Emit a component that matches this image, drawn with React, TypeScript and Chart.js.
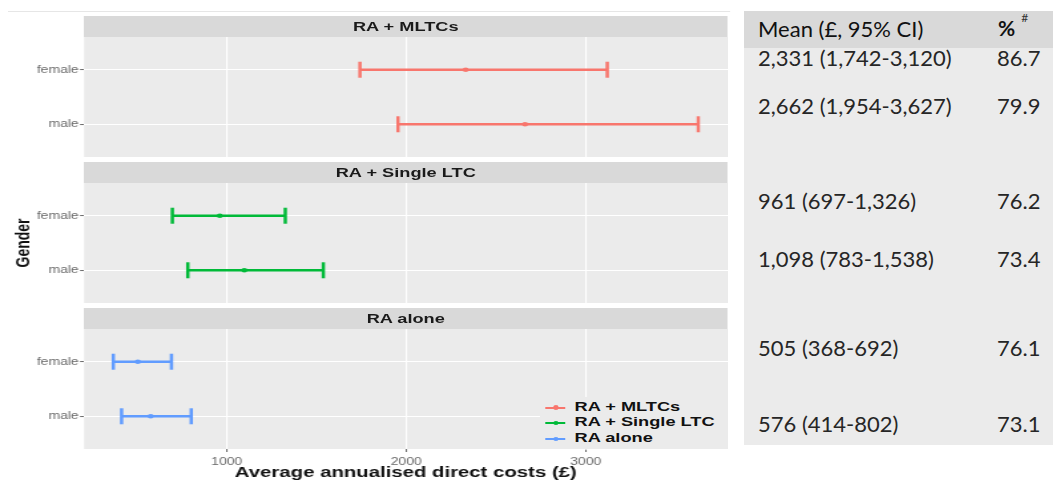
import React, { useEffect, useRef } from 'react';
import { Chart, registerables } from 'chart.js';

Chart.register(...registerables);

// ---------- data ----------
const genders = ['female', 'male'];
const groups = ['RA + MLTCs', 'RA + Single LTC', 'RA alone'];
const groupColors = ['#F8766D', '#00BA38', '#619CFF'];

const mltcMean = [2331, 2662];
const mltcLow = [1742, 1954];
const mltcHigh = [3120, 3627];

const singleMean = [961, 1098];
const singleLow = [697, 783];
const singleHigh = [1326, 1538];

const aloneMean = [505, 576];
const aloneLow = [368, 414];
const aloneHigh = [692, 802];

const mltcPct = [86.7, 79.9];
const singlePct = [76.2, 73.4];
const alonePct = [76.1, 73.1];

const xTickValues = [1000, 2000, 3000];
const xMin = 205;
const xMax = 3790;

const xTitle = 'Average annualised direct costs (£)';
const yTitle = 'Gender';
const tableHeaderMean = 'Mean (£, 95% CI)';
const tableHeaderPct = '%';

const means = [mltcMean, singleMean, aloneMean];
const lows = [mltcLow, singleLow, aloneLow];
const highs = [mltcHigh, singleHigh, aloneHigh];
const pcts = [mltcPct, singlePct, alonePct];

// ---------- layout (chart drawn unstretched, then scaled horizontally) ----------
const STRETCH = 1.33;
const SANS = '"Liberation Sans", Arial, Helvetica, sans-serif';
const AXIS_W = 63.2;
const CANVAS_W = 547;
const stripTops = [16, 162, 308];
const panelTops = [37, 183, 329];
const panelH = 120;
const bottomCanvasH = 153;

const panelBg = {
  id: 'panelBg',
  beforeDraw(chart: any) {
    const { ctx, chartArea } = chart;
    if (!chartArea) return;
    ctx.save();
    ctx.fillStyle = '#EBEBEB';
    ctx.fillRect(chartArea.left, chartArea.top, chartArea.right - chartArea.left, chartArea.bottom - chartArea.top);
    ctx.restore();
  },
};

function Panel({ gi, top, height, showX, showYTitle }: { gi: number; top: number; height: number; showX: boolean; showYTitle: boolean }) {
  const ref = useRef<HTMLCanvasElement>(null);
  useEffect(() => {
    const color = groupColors[gi];
    const datasets: any[] = [];
    genders.forEach((_, i) => {
      datasets.push({
        type: 'scatter',
        label: groups[gi] + ' ' + genders[i],
        data: [
          { x: lows[gi][i], y: i + 1 },
          { x: highs[gi][i], y: i + 1 },
        ],
        showLine: true,
        borderColor: color,
        borderWidth: 2.4,
        pointRadius: 0,
        clip: false,
      });
    });
    datasets.push({
      type: 'scatter',
      label: 'caps',
      data: genders.flatMap((_, i) => [
        { x: lows[gi][i], y: i + 1 },
        { x: highs[gi][i], y: i + 1 },
      ]),
      pointStyle: 'line',
      pointRotation: 90,
      pointRadius: 8,
      pointBorderWidth: 2.5,
      pointBorderColor: color,
      borderColor: color,
      clip: false,
    });
    datasets.push({
      type: 'scatter',
      label: 'mean',
      data: genders.map((_, i) => ({ x: means[gi][i], y: i + 1 })),
      pointRadius: 2.3,
      pointBackgroundColor: color,
      pointBorderWidth: 0,
      backgroundColor: color,
      clip: false,
    });

    const chart = new Chart(ref.current as HTMLCanvasElement, {
      type: 'scatter',
      data: { datasets },
      plugins: [panelBg],
      options: {
        animation: false,
        responsive: false,
        maintainAspectRatio: false,
        events: [],
        layout: { padding: 0, autoPadding: false },
        plugins: { legend: { display: false }, tooltip: { enabled: false }, title: { display: false } },
        scales: {
          x: {
            type: 'linear',
            min: xMin,
            max: xMax,
            afterBuildTicks: (s: any) => {
              s.ticks = xTickValues.map((v) => ({ value: v }));
            },
            grid: { color: '#FFFFFF', lineWidth: 1.1, drawTicks: showX, tickLength: 3, tickColor: '#666666', tickWidth: 1 },
            border: { display: false },
            ticks: {
              display: showX,
              padding: 4,
              color: '#6a6a6a',
              font: { family: SANS, size: 10.5 },
              callback: (v: any) => String(v),
            },
            title: {
              display: showX,
              text: xTitle,
              color: '#111111',
              font: { family: SANS, size: 15.3, weight: 'bold' },
              padding: 0,
            },
            afterFit: (s: any) => {
              s.height = showX ? 33 : 0;
              s.paddingLeft = 0;
              s.paddingRight = 0;
            },
          },
          y: {
            type: 'linear',
            reverse: true,
            min: 0.4,
            max: 2.6,
            afterBuildTicks: (s: any) => {
              s.ticks = genders.map((_, i) => ({ value: i + 1 }));
            },
            grid: { color: '#FFFFFF', lineWidth: 1.1, tickLength: 3, tickColor: '#666666', tickWidth: 1 },
            border: { display: false },
            ticks: {
              padding: 1,
              color: '#6a6a6a',
              font: { family: SANS, size: 10.5 },
              callback: (v: any) => genders[Number(v) - 1] ?? '',
            },
            title: {
              display: showYTitle,
              text: yTitle,
              color: '#111111',
              font: { family: SANS, size: 14, weight: 'bold' },
              padding: { top: 10, bottom: 0 },
            },
            afterFit: (s: any) => {
              s.width = AXIS_W;
              s.paddingTop = 0;
              s.paddingBottom = 0;
            },
          },
        },
      } as any,
    });
    return () => chart.destroy();
  }, []);
  return (
    <canvas
      ref={ref}
      width={CANVAS_W}
      height={height}
      style={{ position: 'absolute', left: 0, top, width: CANVAS_W, height }}
    />
  );
}

const fmt = (n: number) => n.toLocaleString('en-GB');

export default function App() {
  useEffect(() => {
    document.body.style.margin = '0';
    document.body.style.overflow = 'hidden';
    document.documentElement.style.overflow = 'hidden';
  }, []);

  const rowCenters = [58, 106, 201, 259, 348, 424];
  const tableRows: { mean: string; pct: string }[] = [];
  groups.forEach((_, gi) => {
    genders.forEach((_, i) => {
      tableRows.push({
        mean: `${fmt(means[gi][i])} (${fmt(lows[gi][i])}-${fmt(highs[gi][i])})`,
        pct: pcts[gi][i].toFixed(1),
      });
    });
  });

  const legendRows = [407.5, 423, 439];
  const tableFont = `22px Lato, "Open Sans", sans-serif`;

  return (
    <div style={{ position: 'relative', width: 1053, height: 480, overflow: 'hidden', background: '#FFFFFF' }}>
      {/* left figure, horizontally stretched */}
      <div
        style={{
          position: 'absolute',
          left: 0,
          top: 0,
          width: 550,
          height: 480,
          transform: `scaleX(${STRETCH})`,
          transformOrigin: '0 0',
        }}
      >
        <div style={{ position: 'absolute', left: 6, top: 11, width: 543, height: 1, background: '#E6E6E6' }} />
        {groups.map((g, gi) => (
          <div
            key={g}
            style={{
              position: 'absolute',
              left: AXIS_W,
              top: stripTops[gi],
              width: CANVAS_W - AXIS_W,
              height: 21,
              background: '#D9D9D9',
              color: '#1A1A1A',
              font: `bold 13.7px ${SANS}`,
              lineHeight: '22px',
              textAlign: 'center',
            }}
          >
            {g}
          </div>
        ))}
        {groups.map((g, gi) => (
          <Panel
            key={'p' + g}
            gi={gi}
            top={panelTops[gi]}
            height={gi === 2 ? bottomCanvasH : panelH}
            showX={gi === 2}
            showYTitle={gi === 1}
          />
        ))}
        {/* legend */}
        <div style={{ position: 'absolute', left: 406, top: 397, width: 141, height: 52, background: '#EBEBEB' }} />
        {groups.map((g, gi) => (
          <React.Fragment key={'l' + g}>
            <div
              style={{
                position: 'absolute',
                left: 410,
                top: legendRows[gi] - 1,
                width: 15,
                height: 2,
                background: groupColors[gi],
              }}
            />
            <div
              style={{
                position: 'absolute',
                left: 415.5,
                top: legendRows[gi] - 2.2,
                width: 4.4,
                height: 4.4,
                borderRadius: '50%',
                background: groupColors[gi],
              }}
            />
            <div
              style={{
                position: 'absolute',
                left: 432,
                top: legendRows[gi] - 9,
                height: 18,
                lineHeight: '18px',
                color: '#111111',
                font: `bold 13.7px ${SANS}`,
                whiteSpace: 'nowrap',
              }}
            >
              {g}
            </div>
          </React.Fragment>
        ))}
      </div>

      {/* right table */}
      <div style={{ position: 'absolute', left: 744, top: 11, width: 309, height: 37, background: '#D9D9D9' }} />
      <div style={{ position: 'absolute', left: 744, top: 48, width: 309, height: 397, background: '#EBEBEB' }} />
      <div
        style={{
          position: 'absolute',
          left: 758,
          top: 29 - 14,
          height: 28,
          lineHeight: '28px',
          font: tableFont,
          color: '#111111',
          whiteSpace: 'nowrap',
        }}
      >
        {tableHeaderMean}
      </div>
      <div
        style={{
          position: 'absolute',
          left: 998,
          top: 29 - 14,
          height: 28,
          lineHeight: '28px',
          font: `bold 21px Lato, "Open Sans", sans-serif`,
          color: '#111111',
          whiteSpace: 'nowrap',
        }}
      >
        {tableHeaderPct}
        <span style={{ fontSize: 12, fontWeight: 'normal', verticalAlign: 'top', position: 'relative', top: -5, marginLeft: 6, color: '#333' }}>#</span>
      </div>
      {tableRows.map((r, k) => (
        <React.Fragment key={'r' + k}>
          <div
            style={{
              position: 'absolute',
              left: 758,
              top: rowCenters[k] - 14,
              height: 28,
              lineHeight: '28px',
              font: tableFont,
              color: '#262626',
              whiteSpace: 'nowrap',
            }}
          >
            {r.mean}
          </div>
          <div
            style={{
              position: 'absolute',
              left: 997,
              top: rowCenters[k] - 14,
              height: 28,
              lineHeight: '28px',
              font: tableFont,
              color: '#262626',
              whiteSpace: 'nowrap',
            }}
          >
            {r.pct}
          </div>
        </React.Fragment>
      ))}
    </div>
  );
}
